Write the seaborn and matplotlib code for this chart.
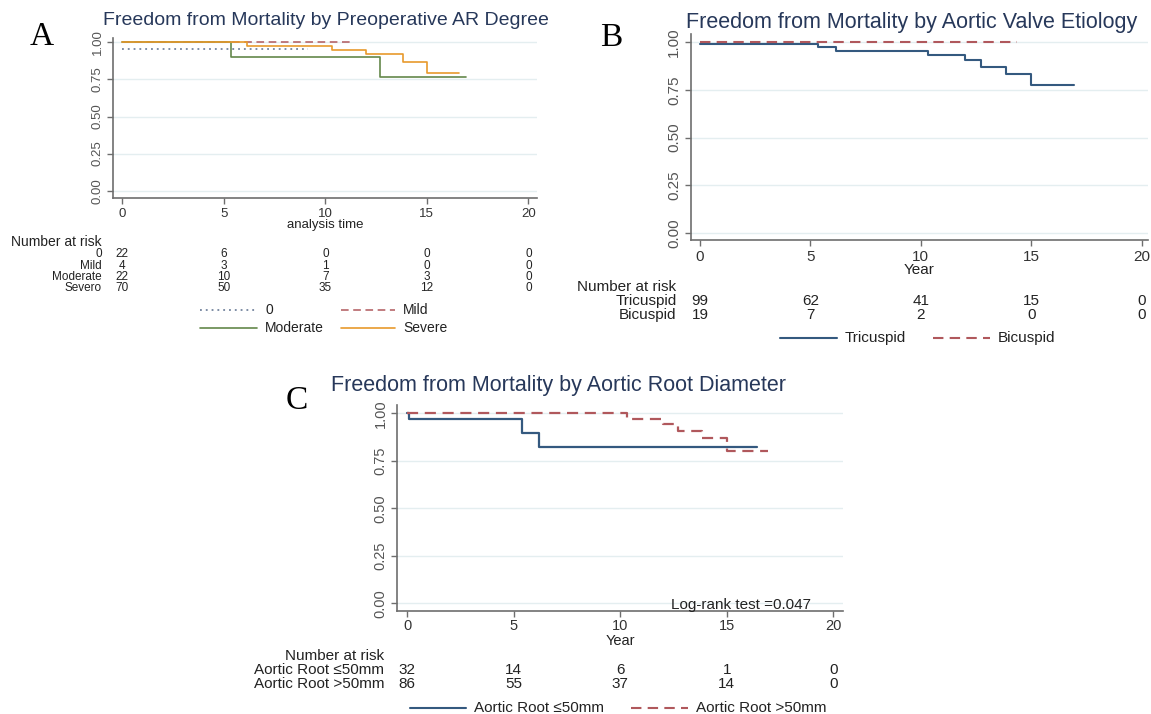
import numpy as np
import pandas as pd
import matplotlib
matplotlib.use("Agg")
import matplotlib.pyplot as plt
from matplotlib.lines import Line2D
from matplotlib.transforms import blended_transform_factory
import seaborn as sns

# ---------------- data ----------------
years = [0, 5, 10, 15, 20]
ytick_vals = [0.0, 0.25, 0.5, 0.75, 1.0]
ytick_labels = ["0.00", "0.25", "0.50", "0.75", "1.00"]

# Panel A : Preoperative AR degree
a_title = "Freedom from Mortality by Preoperative AR Degree"
a_t_0 = [0, 9.16]
a_s_0 = [0.955, 0.955]
a_t_mild = [0, 11.33]
a_s_mild = [1.0, 1.0]
a_t_mod = [0, 5.34, 12.69, 16.91]
a_s_mod = [1.0, 0.899, 0.769, 0.769]
a_t_sev = [0, 6.16, 10.31, 11.99, 13.84, 14.99, 16.58]
a_s_sev = [1.0, 0.978, 0.948, 0.919, 0.865, 0.791, 0.791]
a_legend = ["0", "Mild", "Moderate", "Severe"]
a_risk_labels = ["0", "Mild", "Moderate", "Severo"]
a_risk_0 = [22, 6, 0, 0, 0]
a_risk_mild = [4, 3, 1, 0, 0]
a_risk_mod = [22, 10, 7, 3, 0]
a_risk_sev = [70, 50, 35, 12, 0]

# Panel B : Aortic valve etiology
b_title = "Freedom from Mortality by Aortic Valve Etiology"
b_t_tri = [0, 5.33, 6.14, 10.34, 12.0, 12.71, 13.84, 14.99, 16.94]
b_s_tri = [0.991, 0.977, 0.956, 0.933, 0.907, 0.872, 0.835, 0.776, 0.776]
b_t_bi = [0, 14.34]
b_s_bi = [1.0, 1.0]
b_legend = ["Tricuspid", "Bicuspid"]
b_risk_tri = [99, 62, 41, 15, 0]
b_risk_bi = [19, 7, 2, 0, 0]

# Panel C : Aortic root diameter
c_title = "Freedom from Mortality by Aortic Root Diameter"
c_t_le50 = [0, 0.08, 5.37, 6.18, 16.4]
c_s_le50 = [1.0, 0.968, 0.898, 0.825, 0.825]
c_t_gt50 = [0, 10.33, 12.02, 12.69, 13.82, 14.99, 16.95]
c_s_gt50 = [1.0, 0.970, 0.942, 0.909, 0.868, 0.802, 0.802]
c_legend = ["Aortic Root \u226450mm", "Aortic Root >50mm"]
c_risk_le50 = [32, 14, 6, 1, 0]
c_risk_gt50 = [86, 55, 37, 14, 0]
c_logrank = "Log-rank test =0.047"

# ---------------- styling ----------------
sns.set_theme(style="white")
plt.rcParams["font.family"] = ["Liberation Sans", "DejaVu Sans"]

NAVY = "#34597f"
MAROON = "#b0585c"
GREEN = "#64884a"
ORANGE = "#e89a2c"
DOTBLUE = "#5a6e8c"
TITLE_C = "#27385a"
TXT = "#222222"
SPINE = "#6e6e6e"
GRID = "#e4eef0"

W, H = 1151, 714
fig = plt.figure(figsize=(W / 100, H / 100), dpi=100)
fig.patch.set_facecolor("white")


def fx(px):
    return px / W


def fy(py):
    return 1 - py / H


def rect(left, right, top, bottom):
    return [fx(left), fy(bottom), (right - left) / W, (bottom - top) / H]


def km(ax, t, s, color, ls, lw):
    df = pd.DataFrame({"t": t, "s": s})
    sns.lineplot(data=df, x="t", y="s", ax=ax, color=color, linestyle=ls,
                 linewidth=lw, drawstyle="steps-post", estimator=None,
                 sort=False, legend=False)


def style_axes(ax, xlim, ylim, fs, xlabel, xlabel_py, top, bottom):
    ax.set_xlim(*xlim)
    ax.set_ylim(*ylim)
    ax.set_xticks(years)
    ax.set_xticklabels([str(v) for v in years], fontsize=fs, color="#333333")
    ax.set_yticks(ytick_vals)
    ax.set_yticklabels(ytick_labels, fontsize=fs, color="#555555",
                       rotation=90, va="center")
    for sp in ["top", "right"]:
        ax.spines[sp].set_visible(False)
    for sp in ["left", "bottom"]:
        ax.spines[sp].set_color(SPINE)
        ax.spines[sp].set_linewidth(1.2)
    ax.tick_params(axis="both", direction="out", length=4, width=1,
                   color=SPINE, pad=3, bottom=True, left=True)
    ax.grid(axis="y", color=GRID, linewidth=1.0)
    ax.grid(axis="x", visible=False)
    ax.set_axisbelow(True)
    ax.set_ylabel("")
    ax.set_xlabel(xlabel, fontsize=fs, color=TXT)
    ax.xaxis.set_label_coords(0.5, (bottom - xlabel_py) / (bottom - top))
    ax.xaxis.label.set_va("center")
    ax.set_facecolor("white")


def risk_table(ax, label_right, title_py, rows_py, labels, rows, fs_title, fs_rows):
    fig.text(fx(label_right), fy(title_py), "Number at risk", ha="right",
             va="center", fontsize=fs_title, color=TXT)
    tr = blended_transform_factory(ax.transData, fig.transFigure)
    for py, lab, vals in zip(rows_py, labels, rows):
        fig.text(fx(label_right), fy(py), lab, ha="right", va="center",
                 fontsize=fs_rows, color=TXT)
        for xv, v in zip(years, vals):
            ax.text(xv, fy(py), str(v), transform=tr, ha="center",
                    va="center", fontsize=fs_rows, color=TXT, clip_on=False)


def legend_entry(x0, x1, py, color, ls, lw, text, fs):
    fig.add_artist(Line2D([fx(x0), fx(x1)], [fy(py), fy(py)],
                          transform=fig.transFigure, color=color,
                          linestyle=ls, linewidth=lw))
    fig.text(fx(x1 + 8), fy(py), text, ha="left", va="center",
             fontsize=fs, color=TXT)


DOT = (0, (1.2, 2.6))
DASH = (0, (5, 3))

# ---------------- Panel A ----------------
axA = fig.add_axes(rect(113.3, 536.7, 38.3, 198.3))
km(axA, a_t_0, a_s_0, DOTBLUE, DOT, 1.1)
km(axA, a_t_mild, a_s_mild, MAROON, DASH, 1.1)
km(axA, a_t_mod, a_s_mod, GREEN, "-", 1.2)
km(axA, a_t_sev, a_s_sev, ORANGE, "-", 1.2)
style_axes(axA, (-0.443, 20.41), (-0.051, 1.027), 9.5, "analysis time",
           225.5, 38.3, 198.3)
fig.text(fx(326), fy(20.5), a_title, ha="center", va="center",
         fontsize=14, color=TITLE_C)
risk_table(axA, 101.7, 241.5, [254.3, 265.7, 277.3, 288.3], a_risk_labels,
           [a_risk_0, a_risk_mild, a_risk_mod, a_risk_sev], 10, 8.5)
legend_entry(200, 257, 310, DOTBLUE, DOT, 1.1, a_legend[0], 10)
legend_entry(341, 395, 310, MAROON, DASH, 1.1, a_legend[1], 10)
legend_entry(200, 257, 328.5, GREEN, "-", 1.2, a_legend[2], 10)
legend_entry(341, 395, 328.5, ORANGE, "-", 1.2, a_legend[3], 10)

# ---------------- Panel B ----------------
axB = fig.add_axes(rect(690.7, 1148, 34, 240))
km(axB, b_t_tri, b_s_tri, NAVY, "-", 1.5)
km(axB, b_t_bi, b_s_bi, MAROON, DASH, 1.5)
style_axes(axB, (-0.42, 20.29), (-0.038, 1.044), 11, "Year", 269.8, 34, 240)
fig.text(fx(911.5), fy(22.5), b_title, ha="center", va="center",
         fontsize=15.5, color=TITLE_C)
risk_table(axB, 676.5, 287.3, [300.7, 315], b_legend,
           [b_risk_tri, b_risk_bi], 11, 11)
legend_entry(780, 837, 338.3, NAVY, "-", 1.5, b_legend[0], 11)
legend_entry(933, 990, 338.3, MAROON, DASH, 1.5, b_legend[1], 11)

# ---------------- Panel C ----------------
axC = fig.add_axes(rect(397.3, 843, 405, 611))
km(axC, c_t_le50, c_s_le50, NAVY, "-", 1.6)
km(axC, c_t_gt50, c_s_gt50, MAROON, DASH, 1.6)
style_axes(axC, (-0.47, 20.46), (-0.04, 1.044), 10.5, "Year", 641, 405, 611)
axC.tick_params(axis="x", pad=2)
fig.text(fx(558.5), fy(385.5), c_title, ha="center", va="center",
         fontsize=15.5, color=TITLE_C)
axC.text(fx(741), fy(605), c_logrank, transform=fig.transFigure,
         ha="center", va="center", fontsize=11, color=TXT)
risk_table(axC, 384.5, 656.5, [670.5, 684.3], c_legend,
           [c_risk_le50, c_risk_gt50], 11, 11)
legend_entry(410, 466, 708, NAVY, "-", 1.5, c_legend[0], 11)
legend_entry(631, 688, 708, MAROON, DASH, 1.5, c_legend[1], 11)

# ---------------- panel letters ----------------
for letter, px, py in [("A", 42, 37), ("B", 611, 38), ("C", 297, 401)]:
    fig.text(fx(px), fy(py), letter, ha="center", va="center",
             fontsize=24, color="black", family=["Liberation Serif", "DejaVu Serif"])

fig.savefig("out.png", dpi=100, facecolor="white")
